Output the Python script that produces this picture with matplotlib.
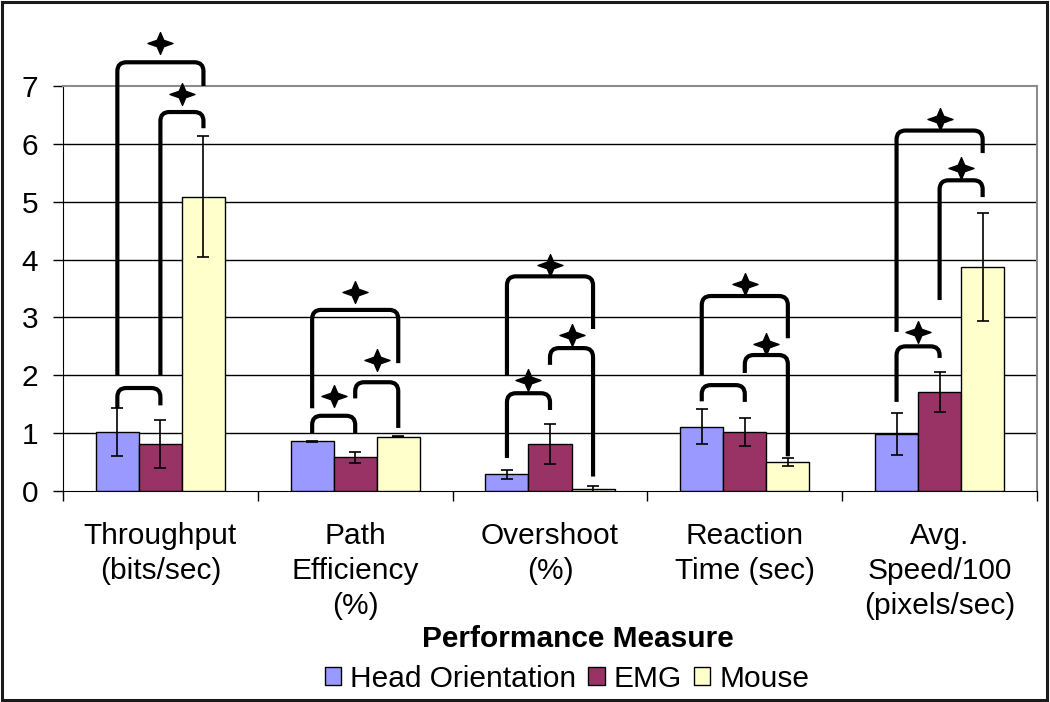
import matplotlib
matplotlib.use("Agg")
import matplotlib.pyplot as plt
from matplotlib.patches import Patch, PathPatch, Rectangle
from matplotlib.path import Path

plt.rcParams['font.family'] = ['Liberation Sans', 'DejaVu Sans']

categories = ["Throughput\n(bits/sec)", "Path\nEfficiency\n(%)", "Overshoot\n(%)",
              "Reaction\nTime (sec)", "Avg.\nSpeed/100\n(pixels/sec)"]
series = ["Head Orientation", "EMG", "Mouse"]
head_mean = [1.02, 0.86, 0.29, 1.11, 0.98]
head_err = [0.42, 0.01, 0.08, 0.30, 0.36]
emg_mean = [0.81, 0.58, 0.81, 1.02, 1.71]
emg_err = [0.41, 0.09, 0.35, 0.24, 0.34]
mouse_mean = [5.09, 0.94, 0.04, 0.50, 3.87]
mouse_err = [1.05, 0.01, 0.05, 0.07, 0.93]

# significance brackets: (category, bar a, bar b, top, left leg end, right leg end, star y)
brackets = [
    (0, 0, 2, 7.41, 2.00, 7.00, 7.75),
    (0, 1, 2, 6.55, 1.99, 6.27, 6.86),
    (0, 0, 1, 1.78, 1.43, 1.48, None),
    (1, 0, 2, 3.13, 1.43, 2.21, 3.44),
    (1, 0, 1, 1.30, 1.00, 1.00, 1.64),
    (1, 1, 2, 1.88, 1.60, 1.09, 2.26),
    (2, 0, 2, 3.71, 2.00, 2.80, 3.91),
    (2, 1, 2, 2.47, 2.18, 0.25, 2.69),
    (2, 0, 1, 1.69, 0.57, 1.40, 1.92),
    (3, 0, 2, 3.37, 1.99, 2.64, 3.57),
    (3, 1, 2, 2.35, 2.04, 0.60, 2.54),
    (3, 0, 1, 1.83, 1.55, 1.54, None),
    (4, 0, 2, 6.23, 2.75, 5.84, 6.43),
    (4, 1, 2, 5.37, 3.30, 5.08, 5.58),
    (4, 0, 1, 2.50, 1.54, 2.30, 2.75),
]

colors = ['#9999FF', '#993366', '#FFFFCC']
W, H = 1050, 702
fig = plt.figure(figsize=(W / 100, H / 100), dpi=100)
ax = fig.add_axes([63 / W, 1 - 491 / H, (1037 - 63) / W, (491 - 86) / H])

bw = 0.221
means = [head_mean, emg_mean, mouse_mean]
errs = [head_err, emg_err, mouse_err]
for k in range(3):
    xs = [i + 0.5 + (k - 1) * bw for i in range(len(categories))]
    ax.bar(xs, means[k], width=bw, color=colors[k], edgecolor='black', linewidth=1, zorder=3)
    ax.errorbar(xs, means[k], yerr=errs[k], fmt='none', ecolor='black',
                elinewidth=1.2, capsize=4, capthick=1.2, zorder=4)

fs = 21.5
ax.set_xlim(0, 5)
ax.set_ylim(0, 7)
ax.set_yticks(range(8))
ax.tick_params(axis='y', labelsize=fs, length=7, width=1, pad=11)
ax.set_xticks(range(6))
ax.set_xticklabels([])
ax.set_xticks([i + 0.5 for i in range(5)], minor=True)
ax.set_xticklabels(categories, minor=True, fontsize=fs, linespacing=1.33)
ax.tick_params(axis='x', which='minor', length=0, pad=22)
ax.tick_params(axis='x', which='major', length=7, width=1)
for y in range(1, 7):
    ax.axhline(y, color='black', lw=1, zorder=1)
for s in ['top', 'right']:
    ax.spines[s].set_color('#8c8c8c')
    ax.spines[s].set_linewidth(1.5)

# brackets with rounded corners
px_x = (1037 - 63) / 5
px_y = (491 - 86) / 7
rx, ry = 9 / px_x, 9 / px_y
star = Path([(0, 1), (0.3, 0.3), (1.15, 0), (0.3, -0.3), (0, -1),
             (-0.3, -0.3), (-1.15, 0), (-0.3, 0.3), (0, 1)], closed=True)
for cat, a, b, top, yl, yr, sy in brackets:
    xl = cat + 0.5 + (a - 1) * bw
    xr = cat + 0.5 + (b - 1) * bw
    verts = [(xl, yl), (xl, top - ry), (xl, top), (xl + rx, top), (xr - rx, top),
             (xr, top), (xr, top - ry), (xr, yr)]
    codes = [Path.MOVETO, Path.LINETO, Path.CURVE3, Path.CURVE3, Path.LINETO,
             Path.CURVE3, Path.CURVE3, Path.LINETO]
    ax.add_patch(PathPatch(Path(verts, codes), fill=False, lw=3, edgecolor='black',
                           capstyle='butt', joinstyle='round', clip_on=False, zorder=5))
    if sy is not None:
        ax.plot([(xl + xr) / 2], [sy], marker=star, markersize=18, color='black',
                clip_on=False, zorder=6)

fig.text(578 / W, 1 - 647 / H, 'Performance Measure', fontsize=fs, fontweight='bold',
         ha='center', va='baseline')
handles = [Patch(facecolor=c, edgecolor='black', linewidth=1) for c in colors]
fig.legend(handles, series, loc='center', bbox_to_anchor=(567 / W, 1 - 679 / H), ncol=3,
           frameon=False, fontsize=fs, handlelength=0.55, handleheight=0.55,
           handletextpad=0.3, columnspacing=0.4, borderpad=0)

fig.patches.append(Rectangle((2 / W, 2 / H), 1045 / W, 698 / H, transform=fig.transFigure,
                             fill=False, edgecolor='#1a1a1a', lw=2.2))
fig.savefig("out.png", dpi=100)
